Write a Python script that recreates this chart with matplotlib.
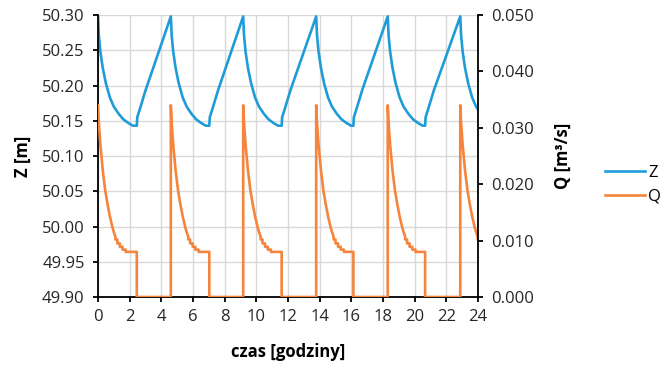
import numpy as np
import matplotlib
matplotlib.use('Agg')
import matplotlib.pyplot as plt
from matplotlib.ticker import FormatStrFormatter

plt.rcParams['font.family'] = ['Open Sans', 'DejaVu Sans']

# pump cycles [h]
pump_on = [0.0, 4.60, 9.17, 13.78, 18.30, 22.88]
pump_off = [2.45, 7.03, 11.60, 16.13, 20.66]

# Z while the pump runs (time since pump on)
z_on_tau = [0.00, 0.05, 0.15, 0.30, 0.50, 0.75, 1.00, 1.30, 1.60, 1.90, 2.20]
z_on_val = [50.298, 50.272, 50.248, 50.225, 50.203, 50.183, 50.170, 50.160, 50.152, 50.147, 50.143]
# Z after the pump stops (time since pump off)
z_off_tau = [0.00, 0.03, 0.20, 0.55]
z_off_val = [50.143, 50.155, 50.167, 50.193]

# Q while the pump runs (time since pump on)
q_on_tau = [0.00, 0.05, 0.15, 0.30, 0.45, 0.60, 0.75, 0.90, 1.00, 1.10, 1.10, 1.22, 1.22,
            1.38, 1.38, 1.55, 1.55, 1.75, 1.75]
q_on_val = [0.034, 0.031, 0.027, 0.0225, 0.019, 0.0165, 0.0143, 0.0125, 0.0115, 0.0107, 0.0102,
            0.0102, 0.0095, 0.0095, 0.0089, 0.0089, 0.0084, 0.0084, 0.0080]
q_last = 0.0080

t_z, z = [], []
t_q, q = [], []
for i, ton in enumerate(pump_on):
    t_z += [ton + a for a in z_on_tau]
    z += z_on_val
    t_q += [ton + a for a in q_on_tau]
    q += q_on_val
    if i < len(pump_off):
        toff = pump_off[i]
        t_z += [toff + a for a in z_off_tau]
        z += z_off_val
        t_q += [toff, toff, pump_on[i + 1]]
        q += [q_last, 0.0, 0.0]

blue = '#1f9cd8'
orange = '#f5843c'
fs = 12

fig = plt.figure(figsize=(6.63, 3.66), dpi=100)
ax = fig.add_axes([98/663, 69/366, 380/663, 282/366])
ax2 = ax.twinx()

lz, = ax.plot(t_z, z, color=blue, lw=1.9, label='Z')
lq, = ax2.plot(t_q, q, color=orange, lw=1.9, label='Q')

ax.set_xlim(0, 24)
ax.set_ylim(49.90, 50.30)
ax.set_xticks(np.arange(0, 25, 2))
ax.set_yticks(np.arange(49.90, 50.301, 0.05))
ax.yaxis.set_major_formatter(FormatStrFormatter('%.2f'))
ax2.set_ylim(0, 0.05)
ax2.set_yticks(np.arange(0, 0.0501, 0.01))
ax2.yaxis.set_major_formatter(FormatStrFormatter('%.3f'))

ax.grid(True, color='#d9d9d9', lw=1.0)
ax.set_axisbelow(True)

for a in (ax, ax2):
    a.spines['top'].set_visible(False)
    for s in ('left', 'right', 'bottom'):
        a.spines[s].set_linewidth(1.3)
    a.tick_params(labelsize=fs, length=3.6, width=1.3, pad=6, colors='black', labelcolor='#262626')
ax.tick_params(axis='x', pad=5)
ax.spines['right'].set_visible(False)
ax2.spines['left'].set_visible(False)
ax2.spines['bottom'].set_visible(False)

ax.set_xlabel('czas [godziny]', fontsize=fs, fontweight='bold', labelpad=13)
ax.set_ylabel('Z [m]', fontsize=fs, fontweight='bold', labelpad=7)
ax2.set_ylabel('Q [m³/s]', fontsize=fs, fontweight='bold', labelpad=14)

fig.legend(handles=[lz, lq], loc='center left', bbox_to_anchor=(0.9125, 0.4945), frameon=False,
           fontsize=fs, handlelength=2.4, handletextpad=0.2, labelspacing=0.45,
           borderaxespad=0, borderpad=0)

fig.savefig('out.png', dpi=100)
